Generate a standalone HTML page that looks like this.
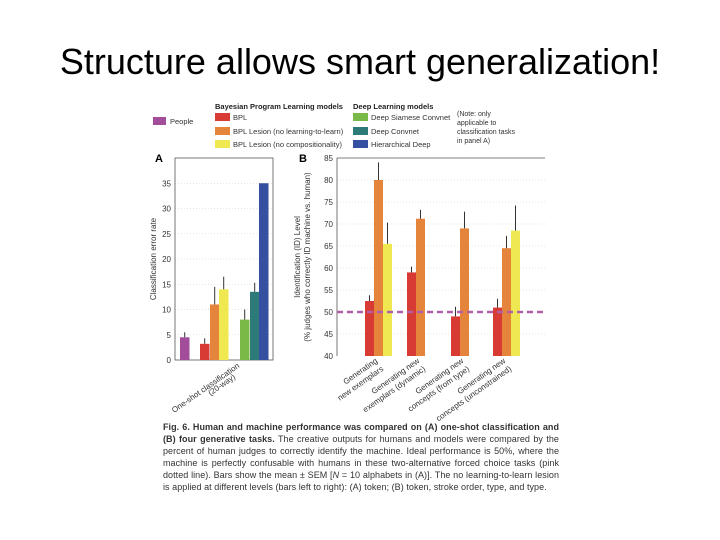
<!DOCTYPE html>
<html><head><meta charset="utf-8"><style>
html,body{margin:0;padding:0;background:#fff;}
body{width:720px;height:540px;overflow:hidden;position:relative;font-family:"Liberation Sans",sans-serif;}
#title{position:absolute;left:0;top:41px;width:720px;text-align:center;font-size:36px;color:#000;}
#caption{position:absolute;left:163px;top:421px;width:396px;font-size:9px;line-height:12px;color:#333;text-align:justify;letter-spacing:0.05px;}
</style></head><body>
<div id="title">Structure allows smart generalization!</div>
<svg id="chart" width="720" height="540" style="position:absolute;left:0;top:0" font-family="Liberation Sans, sans-serif"></svg>
<div id="caption"><b>Fig. 6. Human and machine performance was compared on (A) one-shot classification and (B) four generative tasks.</b> The creative outputs for humans and models were compared by the percent of human judges to correctly identify the machine. Ideal performance is 50%, where the machine is perfectly confusable with humans in these two-alternative forced choice tasks (pink dotted line). Bars show the mean ± SEM [<i>N</i> = 10 alphabets in (A)]. The no learning-to-learn lesion is applied at different levels (bars left to right): (A) token; (B) token, stroke order, type, and type.</div>
<script>
const aModels=["People","BPL","BPL Lesion (no learning-to-learn)","BPL Lesion (no compositionality)","Deep Siamese Convnet","Deep Convnet","Hierarchical Deep"];
const aValues=[4.5,3.2,11,14,8,13.5,35];
const aErrors=[1,1.1,3.5,2.5,2,1.8,0];
const aTicks=[0,5,10,15,20,25,30,35];
const bTasks=["Generating|new exemplars","Generating new|exemplars (dynamic)","Generating new|concepts (from type)","Generating new|concepts (unconstrained)"];
const bBPL=[52.5,59,49,51];
const bBPLErr=[1.3,1.3,2.2,2];
const bLesion1=[80,71.2,69,64.5];
const bLesion1Err=[4,2,3.8,2.8];
const bLesion2=[65.5,null,null,68.5];
const bLesion2Err=[4.8,0,0,5.7];
const bTicks=[40,45,50,55,60,65,70,75,80,85];
const chance=50;
const colors={purple:"#a24c9c",red:"#d83a34",orange:"#e5843b",yellow:"#efe850",green:"#79b948",teal:"#2d7a78",blue:"#3550a0"};
const aColors=[colors.purple,colors.red,colors.orange,colors.yellow,colors.green,colors.teal,colors.blue];
const svg=document.getElementById('chart');
const NS="http://www.w3.org/2000/svg";
function mk(tag,attrs,parent){const e=document.createElementNS(NS,tag);for(const k in attrs)e.setAttribute(k,attrs[k]);(parent||svg).appendChild(e);return e;}
function txt(s,attrs,parent){const e=mk('text',attrs,parent);e.textContent=s;return e;}
let g=mk('g',{});


txt("Bayesian Program Learning models",{x:215,y:109,'font-size':7.5,'font-weight':'bold',fill:'#222'},g);
txt("Deep Learning models",{x:353,y:109,'font-size':7.5,'font-weight':'bold',fill:'#222'},g);
const legItems=[[153,117,0],[215,113,1],[215,127,2],[215,140,3],[353,113,4],[353,127,5],[353,140,6]];
legItems.forEach(([x,y,i])=>{
 const r=mk('rect',{x:x,y:y,width:i==0?13:15,height:8,fill:aColors[i]},g);
 
 
 const t=txt(aModels[i],{x:x+(i==0?17:18),y:y+7,'font-size':7.5,fill:'#333'},g);
 
 
});
["(Note: only","applicable to","classification tasks","in panel A)"].forEach((s,i)=>txt(s,{x:457,y:116+i*9,'font-size':7,fill:'#333'},g));
const aL=175,aR=273,aT=158,aB=360;
function ya(v){return aB-(v/40)*(aB-aT);}
txt("A",{x:155,y:162,'font-size':11,'font-weight':'bold'});
aTicks.forEach(t=>{
 if(t>0)mk('line',{x1:aL,x2:aR,y1:ya(t),y2:ya(t),stroke:'#ccc','stroke-width':0.6,'stroke-dasharray':'1,2'});
 txt(String(t),{x:aL-4,y:ya(t)+3,'font-size':8,'text-anchor':'end',fill:'#333'});
});
mk('rect',{x:aL,y:aT,width:aR-aL,height:aB-aT,fill:'none',stroke:'#555','stroke-width':0.8});
const aX=[180,200,210,219,240,250,259];
aValues.forEach((v,i)=>{
 const b=mk('rect',{x:aX[i],y:ya(v),width:9.5,height:aB-ya(v),fill:aColors[i]});
 
 
 if(aErrors[i]>0)mk('line',{x1:aX[i]+4.7,x2:aX[i]+4.7,y1:ya(v),y2:ya(v+aErrors[i]),stroke:'#333','stroke-width':1});
});
let yt=txt("Classification error rate",{x:0,y:0,'font-size':8,'text-anchor':'middle',fill:'#333',transform:`translate(156,${(aT+aB)/2}) rotate(-90)`});


txt("One-shot classification",{x:0,y:0,'font-size':8,'text-anchor':'end',fill:'#333',transform:`translate(240,367) rotate(-35)`});
txt("(20-way)",{x:0,y:0,'font-size':8,'text-anchor':'end',fill:'#333',transform:`translate(236,378) rotate(-35)`});
const bL=337,bR=545,bT=158,bB=356;
function yb(v){return bB-((v-40)/45)*(bB-bT);}
txt("B",{x:299,y:162,'font-size':11,'font-weight':'bold'});
bTicks.forEach(t=>{
 if(t>40&&t<85)mk('line',{x1:bL,x2:bR,y1:yb(t),y2:yb(t),stroke:'#ccc','stroke-width':0.6,'stroke-dasharray':'1,2'});
 txt(String(t),{x:bL-4,y:yb(t)+3,'font-size':8,'text-anchor':'end',fill:'#333'});
});
mk('line',{x1:bL,x2:bL,y1:bT,y2:bB,stroke:'#555','stroke-width':0.8});
mk('line',{x1:bL,x2:bR,y1:bT,y2:bT,stroke:'#555','stroke-width':0.8});
const gx=[365,407,451,493];
function barB(x,v,e,c,n){
 const b=mk('rect',{x:x,y:yb(v),width:9,height:bB-yb(v),fill:c});
 
 
 mk('line',{x1:x+4.5,x2:x+4.5,y1:yb(v),y2:yb(v+e),stroke:'#333','stroke-width':1});
}
bTasks.forEach((t,i)=>{
 barB(gx[i],bBPL[i],bBPLErr[i],colors.red,'bar-b-bpl-'+i);
 barB(gx[i]+9,bLesion1[i],bLesion1Err[i],colors.orange,'bar-b-lesion1-'+i);
 if(bLesion2[i]!=null)barB(gx[i]+18,bLesion2[i],bLesion2Err[i],colors.yellow,'bar-b-lesion2-'+i);
 const parts=t.split('|');
 const cx=gx[i]+13;
 txt(parts[0],{x:0,y:0,'font-size':8,'text-anchor':'end',fill:'#333',transform:`translate(${cx},362) rotate(-35)`});
 txt(parts[1],{x:0,y:0,'font-size':8,'text-anchor':'end',fill:'#333',transform:`translate(${cx+6},370) rotate(-35)`});
});
const cl=mk('line',{x1:bL,x2:bR,y1:yb(chance),y2:yb(chance),stroke:'#b060a8','stroke-width':2.5,'stroke-dasharray':'6,4'});


txt("Identification (ID) Level",{x:0,y:0,'font-size':8,'text-anchor':'middle',fill:'#333',transform:`translate(300,${(bT+bB)/2}) rotate(-90)`});
txt("(% judges who correctly ID machine vs. human)",{x:0,y:0,'font-size':8,'text-anchor':'middle',fill:'#333',transform:`translate(310,${(bT+bB)/2}) rotate(-90)`});
</script>
</body></html>
